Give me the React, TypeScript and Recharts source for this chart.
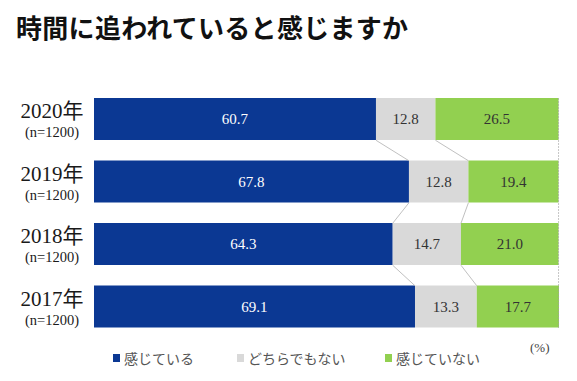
import React from 'react';
import { BarChart, Bar, XAxis, YAxis, LabelList, ReferenceLine } from 'recharts';

const years = ['2020年', '2019年', '2018年', '2017年'];
const sampleLabels = ['(n=1200)', '(n=1200)', '(n=1200)', '(n=1200)'];
const feel = [60.7, 67.8, 64.3, 69.1];
const neutral = [12.8, 12.8, 14.7, 13.3];
const notFeel = [26.5, 19.4, 21.0, 17.7];
const seriesNames = ['感じている', 'どちらでもない', '感じていない'];
const colors = ['#0b3893', '#d9d9d9', '#92d050'];
const title = '時間に追われていると感じますか';

const data = years.map((y, i) => ({
  year: y,
  n: sampleLabels[i],
  feel: feel[i],
  neutral: neutral[i],
  notFeel: notFeel[i],
}));

const BAR = 42;
const SERIF = "'Liberation Serif', 'DejaVu Serif', 'Noto Sans CJK JP', serif";
const SANS = "'Noto Sans CJK JP', sans-serif";

const YTick = (props: any) => {
  const { y, payload, index } = props;
  const cx = 52;
  return (
    <g>
      <text x={cx} y={y - 1} textAnchor="middle" fontFamily={SERIF} fontSize={21} fill="#1a1a1a">
        {payload.value}
      </text>
      <text x={cx} y={y + 18} textAnchor="middle" fontFamily={SERIF} fontSize={14.5} fill="#1a1a1a">
        {sampleLabels[index] ?? sampleLabels[0]}
      </text>
    </g>
  );
};

const connectorShape = (p: any) => (
  <line x1={p.x1} y1={p.y1 + BAR / 2} x2={p.x2} y2={p.y2 - BAR / 2} stroke="#b0b0b0" strokeWidth={0.8} />
);

const vShape = (p: any) => (
  <line x1={p.x1} y1={Math.min(p.y1, p.y2) + 10.25} x2={p.x2} y2={Math.max(p.y1, p.y2) - 10.25} stroke="#a0a0a0" strokeWidth={0.8} strokeDasharray="1.5 1.5" />
);

const LegendBlock = () => {
  const pos = [113, 237, 385];
  return (
    <div style={{ position: 'absolute', left: 0, top: 346, width: 577, height: 24 }}>
      {seriesNames.map((n, i) => (
        <div key={n} style={{ position: 'absolute', left: pos[i], top: 0, display: 'flex', alignItems: 'center', height: 24 }}>
          <span style={{ display: 'inline-block', width: 7, height: 8, background: colors[i], marginRight: 4 }} />
          <span style={{ fontFamily: SANS, fontSize: 14, color: '#555', lineHeight: '24px', whiteSpace: 'nowrap' }}>{n}</span>
        </div>
      ))}
    </div>
  );
};

export default function App() {
  const blueConnectors = years.slice(0, -1).map((y, i) => [
    { x: feel[i], y: years[i] },
    { x: feel[i + 1], y: years[i + 1] },
  ]);
  const grayConnectors = years.slice(0, -1).map((y, i) => [
    { x: feel[i] + neutral[i], y: years[i] },
    { x: feel[i + 1] + neutral[i + 1], y: years[i + 1] },
  ]);
  return (
    <div style={{ position: 'absolute', left: 0, top: 0, width: 577, height: 381, background: '#fff' }}>
      <div style={{ position: 'absolute', left: 16, top: 9, fontFamily: SANS, fontWeight: 700, fontSize: 26, letterSpacing: 0.3, color: '#111', whiteSpace: 'nowrap', lineHeight: '36px' }}>
        {title}
      </div>
      <div style={{ position: 'absolute', left: 530, top: 340, fontFamily: SERIF, fontSize: 13, color: '#444' }}>(%)</div>
      <BarChart width={577} height={381} data={data} layout="vertical" margin={{ top: 88, right: 18, left: 0, bottom: 43 }} barSize={BAR}>
        <XAxis type="number" domain={[0, 100]} hide />
        <YAxis type="category" dataKey="year" width={94} axisLine={false} tickLine={false} tick={<YTick />} interval={0} />
        <Bar dataKey="feel" name={seriesNames[0]} stackId="a" fill={colors[0]} isAnimationActive={false}>
          <LabelList dataKey="feel" position="center" fill="#fff" fontFamily={SERIF} fontSize={15} formatter={(v: any) => Number(v).toFixed(1)} />
        </Bar>
        <Bar dataKey="neutral" name={seriesNames[1]} stackId="a" fill={colors[1]} isAnimationActive={false}>
          <LabelList dataKey="neutral" position="center" fill="#333" fontFamily={SERIF} fontSize={15} formatter={(v: any) => Number(v).toFixed(1)} />
        </Bar>
        <Bar dataKey="notFeel" name={seriesNames[2]} stackId="a" fill={colors[2]} isAnimationActive={false}>
          <LabelList dataKey="notFeel" position="center" fill="#333" fontFamily={SERIF} fontSize={15} formatter={(v: any) => Number(v).toFixed(1)} />
        </Bar>
        {blueConnectors.map((seg, i) => (
          <ReferenceLine key={'b' + i} segment={seg} shape={connectorShape} ifOverflow="visible" />
        ))}
        {grayConnectors.map((seg, i) => (
          <ReferenceLine key={'g' + i} segment={seg} shape={connectorShape} ifOverflow="visible" />
        ))}
        <ReferenceLine x={100} shape={vShape} ifOverflow="visible" />
      </BarChart>
      <LegendBlock />
    </div>
  );
}
